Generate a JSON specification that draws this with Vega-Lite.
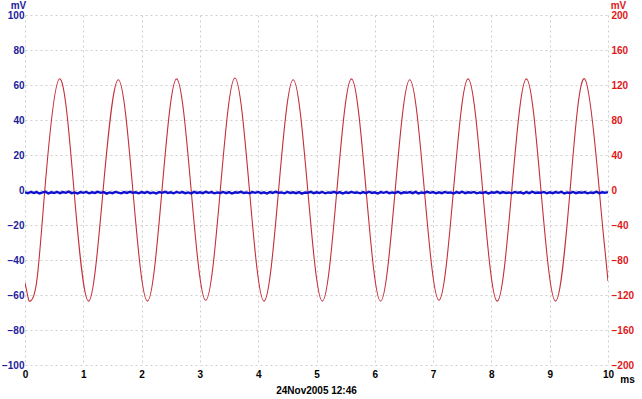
{
  "$schema": "https://vega.github.io/schema/vega-lite/v6.json",
  "width": 583,
  "height": 350,
  "autosize": {"type": "none"},
  "padding": {"left": 25, "top": 15, "right": 34, "bottom": 34},
  "background": "white",
  "title": {"text": "24Nov2005 12:46", "orient": "bottom", "anchor": "middle", "fontSize": 10, "fontWeight": "bold", "font": "Liberation Sans", "color": "#000000", "offset": 2},
  "config": {
    "view": {"stroke": null},
    "axis": {"labelFont": "Liberation Sans", "labelFontWeight": "bold", "labelFontSize": 10, "titleFont": "Liberation Sans", "titleFontWeight": "bold", "titleFontSize": 10, "domain": false, "ticks": false, "labelFlush": false, "labelOverlap": false, "gridColor": "#cfcfcf", "gridDash": [2, 3], "gridWidth": 1}
  },
  "datasets": {
    "red": [
      {"t": 0, "v": -106}, {"t": 0.05, "v": -122}, {"t": 0.09, "v": -127}, {"t": 0.2, "v": -105}, {"t": 0.34, "v": 0}, {"t": 0.59, "v": 127}, {"t": 0.84, "v": 0},
      {"t": 1.09, "v": -127}, {"t": 1.34, "v": 0}, {"t": 1.6, "v": 126}, {"t": 1.85, "v": 0},
      {"t": 2.1, "v": -127}, {"t": 2.35, "v": 0}, {"t": 2.6, "v": 127}, {"t": 2.85, "v": 0},
      {"t": 3.1, "v": -126}, {"t": 3.35, "v": 0}, {"t": 3.6, "v": 128}, {"t": 3.85, "v": 0},
      {"t": 4.1, "v": -127}, {"t": 4.35, "v": 0}, {"t": 4.6, "v": 126}, {"t": 4.85, "v": 0},
      {"t": 5.1, "v": -127}, {"t": 5.35, "v": 0}, {"t": 5.6, "v": 127}, {"t": 5.85, "v": 0},
      {"t": 6.1, "v": -127}, {"t": 6.35, "v": 0}, {"t": 6.6, "v": 126}, {"t": 6.85, "v": 0},
      {"t": 7.1, "v": -126}, {"t": 7.35, "v": 0}, {"t": 7.6, "v": 127}, {"t": 7.85, "v": 0},
      {"t": 8.1, "v": -127}, {"t": 8.35, "v": 0}, {"t": 8.6, "v": 127}, {"t": 8.85, "v": 0},
      {"t": 9.1, "v": -127}, {"t": 9.35, "v": 0}, {"t": 9.6, "v": 127}, {"t": 9.85, "v": 0},
      {"t": 9.95, "v": -70}, {"t": 10, "v": -104}
    ],
    "blue": [
      {"t": 0.00, "b": -1.3}, {"t": 0.05, "b": -1.8}, {"t": 0.10, "b": -1.1}, {"t": 0.15, "b": -1.7}, {"t": 0.20, "b": -1.2}, {"t": 0.25, "b": -2.0}, {"t": 0.30, "b": -1.4}, {"t": 0.35, "b": -1.0}, {"t": 0.40, "b": -1.9}, {"t": 0.45, "b": -1.3},
      {"t": 0.50, "b": -1.7}, {"t": 0.55, "b": -1.1}, {"t": 0.60, "b": -1.8}, {"t": 0.65, "b": -1.2}, {"t": 0.70, "b": -1.6}, {"t": 0.75, "b": -0.9}, {"t": 0.80, "b": -1.8}, {"t": 0.85, "b": -1.4}, {"t": 0.90, "b": -2.0}, {"t": 0.95, "b": -1.2},
      {"t": 1.00, "b": -1.6}, {"t": 1.05, "b": -1.1}, {"t": 1.10, "b": -1.9}, {"t": 1.15, "b": -1.3}, {"t": 1.20, "b": -1.7}, {"t": 1.25, "b": -1.0}, {"t": 1.30, "b": -1.6}, {"t": 1.35, "b": -1.2}, {"t": 1.40, "b": -2.1}, {"t": 1.45, "b": -1.4},
      {"t": 1.50, "b": -1.8}, {"t": 1.55, "b": -1.1}, {"t": 1.60, "b": -1.5}, {"t": 1.65, "b": -1.9}, {"t": 1.70, "b": -1.2}, {"t": 1.75, "b": -1.7}, {"t": 1.80, "b": -1.0}, {"t": 1.85, "b": -1.6}, {"t": 1.90, "b": -1.3}, {"t": 1.95, "b": -1.9},
      {"t": 2.00, "b": -1.2}, {"t": 2.05, "b": -1.7}, {"t": 2.10, "b": -1.1}, {"t": 2.15, "b": -1.8}, {"t": 2.20, "b": -1.4}, {"t": 2.25, "b": -2.0}, {"t": 2.30, "b": -1.2}, {"t": 2.35, "b": -1.6}, {"t": 2.40, "b": -1.0}, {"t": 2.45, "b": -1.7},
      {"t": 2.50, "b": -1.3}, {"t": 2.55, "b": -1.9}, {"t": 2.60, "b": -1.1}, {"t": 2.65, "b": -1.6}, {"t": 2.70, "b": -1.2}, {"t": 2.75, "b": -1.8}, {"t": 2.80, "b": -1.4}, {"t": 2.85, "b": -2.0}, {"t": 2.90, "b": -1.1}, {"t": 2.95, "b": -1.7},
      {"t": 3.00, "b": -1.3}, {"t": 3.05, "b": -1.8}, {"t": 3.10, "b": -1.0}, {"t": 3.15, "b": -1.6}, {"t": 3.20, "b": -1.2}, {"t": 3.25, "b": -1.9}, {"t": 3.30, "b": -1.4}, {"t": 3.35, "b": -1.7}, {"t": 3.40, "b": -1.1}, {"t": 3.45, "b": -1.8},
      {"t": 3.50, "b": -1.2}, {"t": 3.55, "b": -2.0}, {"t": 3.60, "b": -1.3}, {"t": 3.65, "b": -1.6}, {"t": 3.70, "b": -1.0}, {"t": 3.75, "b": -1.7}, {"t": 3.80, "b": -1.4}, {"t": 3.85, "b": -1.9}, {"t": 3.90, "b": -1.2}, {"t": 3.95, "b": -1.6},
      {"t": 4.00, "b": -1.1}, {"t": 4.05, "b": -1.8}, {"t": 4.10, "b": -1.3}, {"t": 4.15, "b": -2.0}, {"t": 4.20, "b": -1.2}, {"t": 4.25, "b": -1.7}, {"t": 4.30, "b": -1.0}, {"t": 4.35, "b": -1.6}, {"t": 4.40, "b": -1.4}, {"t": 4.45, "b": -1.9},
      {"t": 4.50, "b": -1.1}, {"t": 4.55, "b": -1.7}, {"t": 4.60, "b": -1.3}, {"t": 4.65, "b": -1.8}, {"t": 4.70, "b": -1.2}, {"t": 4.75, "b": -2.1}, {"t": 4.80, "b": -1.4}, {"t": 4.85, "b": -1.6}, {"t": 4.90, "b": -1.0}, {"t": 4.95, "b": -1.8},
      {"t": 5.00, "b": -1.3}, {"t": 5.05, "b": -1.7}, {"t": 5.10, "b": -1.1}, {"t": 5.15, "b": -1.9}, {"t": 5.20, "b": -1.4}, {"t": 5.25, "b": -1.6}, {"t": 5.30, "b": -1.0}, {"t": 5.35, "b": -1.8}, {"t": 5.40, "b": -1.2}, {"t": 5.45, "b": -2.0},
      {"t": 5.50, "b": -1.3}, {"t": 5.55, "b": -1.7}, {"t": 5.60, "b": -1.1}, {"t": 5.65, "b": -1.6}, {"t": 5.70, "b": -1.4}, {"t": 5.75, "b": -1.9}, {"t": 5.80, "b": -1.2}, {"t": 5.85, "b": -1.8}, {"t": 5.90, "b": -1.0}, {"t": 5.95, "b": -1.7},
      {"t": 6.00, "b": -1.3}, {"t": 6.05, "b": -2.0}, {"t": 6.10, "b": -1.2}, {"t": 6.15, "b": -1.6}, {"t": 6.20, "b": -1.1}, {"t": 6.25, "b": -1.8}, {"t": 6.30, "b": -1.4}, {"t": 6.35, "b": -1.7}, {"t": 6.40, "b": -1.0}, {"t": 6.45, "b": -1.9},
      {"t": 6.50, "b": -1.3}, {"t": 6.55, "b": -1.6}, {"t": 6.60, "b": -1.2}, {"t": 6.65, "b": -1.8}, {"t": 6.70, "b": -1.1}, {"t": 6.75, "b": -2.0}, {"t": 6.80, "b": -1.4}, {"t": 6.85, "b": -1.7}, {"t": 6.90, "b": -1.0}, {"t": 6.95, "b": -1.6},
      {"t": 7.00, "b": -1.2}, {"t": 7.05, "b": -1.9}, {"t": 7.10, "b": -1.3}, {"t": 7.15, "b": -1.8}, {"t": 7.20, "b": -1.1}, {"t": 7.25, "b": -1.6}, {"t": 7.30, "b": -1.4}, {"t": 7.35, "b": -2.0}, {"t": 7.40, "b": -1.2}, {"t": 7.45, "b": -1.7},
      {"t": 7.50, "b": -1.0}, {"t": 7.55, "b": -1.8}, {"t": 7.60, "b": -1.3}, {"t": 7.65, "b": -1.6}, {"t": 7.70, "b": -1.1}, {"t": 7.75, "b": -1.9}, {"t": 7.80, "b": -1.4}, {"t": 7.85, "b": -1.7}, {"t": 7.90, "b": -1.2}, {"t": 7.95, "b": -2.0},
      {"t": 8.00, "b": -1.3}, {"t": 8.05, "b": -1.6}, {"t": 8.10, "b": -1.0}, {"t": 8.15, "b": -1.8}, {"t": 8.20, "b": -1.2}, {"t": 8.25, "b": -1.7}, {"t": 8.30, "b": -1.4}, {"t": 8.35, "b": -1.9}, {"t": 8.40, "b": -1.1}, {"t": 8.45, "b": -1.6},
      {"t": 8.50, "b": -1.3}, {"t": 8.55, "b": -2.0}, {"t": 8.60, "b": -1.2}, {"t": 8.65, "b": -1.8}, {"t": 8.70, "b": -1.0}, {"t": 8.75, "b": -1.7}, {"t": 8.80, "b": -1.4}, {"t": 8.85, "b": -1.6}, {"t": 8.90, "b": -1.1}, {"t": 8.95, "b": -1.9},
      {"t": 9.00, "b": -1.3}, {"t": 9.05, "b": -1.8}, {"t": 9.10, "b": -1.2}, {"t": 9.15, "b": -1.6}, {"t": 9.20, "b": -1.0}, {"t": 9.25, "b": -2.0}, {"t": 9.30, "b": -1.4}, {"t": 9.35, "b": -1.7}, {"t": 9.40, "b": -1.1}, {"t": 9.45, "b": -1.8},
      {"t": 9.50, "b": -1.3}, {"t": 9.55, "b": -1.6}, {"t": 9.60, "b": -1.2}, {"t": 9.65, "b": -1.9}, {"t": 9.70, "b": -1.4}, {"t": 9.75, "b": -1.7}, {"t": 9.80, "b": -1.0}, {"t": 9.85, "b": -1.8}, {"t": 9.90, "b": -1.3}, {"t": 9.95, "b": -1.6}, {"t": 10.00, "b": -1.2}
    ]
  },
  "layer": [
    {
      "data": {"name": "red"},
      "mark": {"type": "line", "color": "#c42f3a", "strokeWidth": 1.1, "interpolate": "natural", "clip": true},
      "encoding": {
        "x": {"field": "t", "type": "quantitative", "scale": {"domain": [0, 10], "nice": false},
          "axis": {"values": [0,1,2,3,4,5,6,7,8,9,10], "grid": true, "labelColor": "#000000", "labelPadding": 4, "title": "ms", "titleX": 602, "titleY": 14, "titleAlign": "center", "titleBaseline": "middle", "titleColor": "#000000"}},
        "y": {"field": "v", "type": "quantitative", "scale": {"domain": [-200, 200], "nice": false},
          "axis": {"orient": "right", "values": [-200,-160,-120,-80,-40,0,40,80,120,160,200], "grid": false, "labelColor": "#e01818", "labelPadding": 3, "title": "mV", "titleAngle": 0, "titleX": 10, "titleY": -10, "titleAlign": "center", "titleBaseline": "middle", "titleColor": "#e01818"}}
      }
    },
    {
      "data": {"name": "blue"},
      "mark": {"type": "line", "color": "#1010d0", "strokeWidth": 2.4, "clip": true},
      "encoding": {
        "x": {"field": "t", "type": "quantitative", "scale": {"domain": [0, 10], "nice": false},
          "axis": {"values": [0,1,2,3,4,5,6,7,8,9,10], "grid": true, "labelColor": "#000000", "labelPadding": 4, "title": "ms", "titleX": 602, "titleY": 14, "titleAlign": "center", "titleBaseline": "middle", "titleColor": "#000000"}},
        "y": {"field": "b", "type": "quantitative", "scale": {"domain": [-100, 100], "nice": false},
          "axis": {"orient": "left", "values": [-100,-80,-60,-40,-20,0,20,40,60,80,100], "grid": true, "labelColor": "#1c1c9c", "labelPadding": 1, "title": "mV", "titleAngle": 0, "titleX": -7, "titleY": -10, "titleAlign": "center", "titleBaseline": "middle", "titleColor": "#1c1c9c"}}
      }
    }
  ],
  "resolve": {"scale": {"y": "independent"}}
}
